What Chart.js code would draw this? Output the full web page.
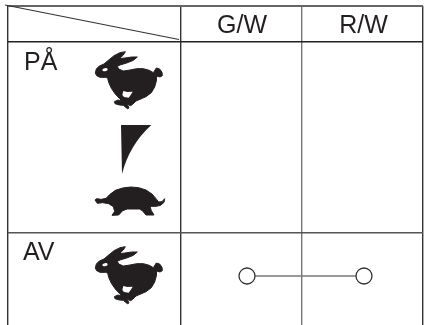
<!DOCTYPE html>
<html>
<head>
<meta charset="utf-8">
<style>html,body{margin:0;padding:0;background:#fff}canvas{display:block}</style>
<script src="https://cdn.jsdelivr.net/npm/chart.js@4"></script>
</head>
<body>
<canvas id="c" width="426" height="325"></canvas>
<script>
const columns = ["G/W", "R/W"];
const columnCentres = [242, 363.5];
const rows = ["PÅ", "AV"];
const rowLabelX = [24, 23];
const rowBaselines = [69.5, 260.3];
const columnEdges = [7.5, 181, 302, 423];
const rowEdges = [6, 42, 233];
const rabbitX = [130, 130];
const rabbitY = [80, 275];
const wedgeX = [130];
const wedgeY = [170];
const turtleX = [130];
const turtleY = [170];
const diagonalX = [5, 179];
const diagonalY = [5, 39.5];
const connectorX = [247, 364];
const connectorY = [276, 276];

const INK = "#231f20";

function icon(w, h, paint) {
  const cv = document.createElement("canvas");
  cv.width = w; cv.height = h;
  const g = cv.getContext("2d");
  g.scale(1 / 3, 1 / 3);
  g.fillStyle = INK;
  g.strokeStyle = INK;
  g.lineWidth = 3;
  g.lineJoin = "round";
  paint(g);
  return cv;
}
function outline(g, pts) {
  g.beginPath();
  g.moveTo(pts[0][0], pts[0][1]);
  for (let i = 1; i < pts.length; i++) g.lineTo(pts[i][0], pts[i][1]);
  g.closePath();
}
const rabbitIcon = icon(80, 70, g => {
  outline(g, [[16,84],[19,72],[28,63],[42,57],[55,46],[72,32],[90,23],[106,20],[100,30],[88,41],[105,39],[125,36],[142,36],[130,46],[110,54],[90,60],[82,64],[86,72],[100,78],[120,75],[140,71],[160,71],[178,76],[190,83],[195,75],[199,69],[209,72],[216,82],[217,92],[210,96],[200,93],[199,108],[194,126],[184,143],[168,155],[150,163],[138,168],[128,178],[122,182],[112,178],[117,189],[112,191],[100,181],[88,180],[75,176],[73,170],[84,165],[96,168],[88,160],[75,146],[64,130],[56,112],[53,99],[46,97],[30,97],[20,92]]);
  g.fill(); g.stroke();
  g.fillStyle = "#fff";
  g.beginPath(); g.ellipse(45, 74, 8, 4.5, -0.2, 0, Math.PI * 2); g.fill();
  outline(g, [[100,138],[112,141],[128,140],[122,150],[116,158],[102,156],[97,150]]);
  g.fill();
});
const wedgeIcon = icon(80, 100, g => {
  g.beginPath();
  g.moveTo(93, 15); g.lineTo(184, 15);
  g.quadraticCurveTo(118, 75, 96, 162);
  g.closePath(); g.fill();
});
const turtleIcon = icon(80, 100, g => {
  outline(g, [[15,240],[20,236],[34,238],[48,235],[60,223],[76,211],[98,204],[122,201],[146,203],[168,210],[186,222],[198,236],[206,246],[216,245],[224,236],[222,247],[212,256],[198,259],[180,259],[184,272],[192,285],[168,285],[157,272],[148,267],[112,267],[98,272],[86,285],[66,286],[74,274],[70,260],[56,251],[38,248],[22,250]]);
  g.fill(); g.stroke();
});

function pts(xs, ys) { return xs.map((x, i) => ({ x, y: ys[i] })); }

const tableText = {
  id: "tableText",
  afterDraw(chart) {
    const { ctx, scales: { x, y } } = chart;
    ctx.save();
    ctx.fillStyle = INK;
    ctx.font = '25px "Liberation Sans", Arial, sans-serif';
    ctx.textBaseline = "alphabetic";
    ctx.textAlign = "center";
    columns.forEach((t, i) => ctx.fillText(t, x.getPixelForValue(columnCentres[i]), y.getPixelForValue(33)));
    ctx.textAlign = "left";
    rows.forEach((t, i) => ctx.fillText(t, x.getPixelForValue(rowLabelX[i]), y.getPixelForValue(rowBaselines[i])));
    ctx.restore();
  }
};

new Chart(document.getElementById("c"), {
  type: "scatter",
  data: {
    datasets: [
      { data: pts(diagonalX, diagonalY), showLine: true, clip: false, borderColor: "#333", borderWidth: 1.2, pointRadius: 0 },
      { data: pts(connectorX, connectorY), showLine: true, borderColor: "#777", borderWidth: 1.5, pointRadius: 8, pointBackgroundColor: "#fff", pointBorderColor: "#333", pointBorderWidth: 1.3 },
      { data: pts(rabbitX, rabbitY), pointStyle: rabbitIcon, pointRadius: 1, clip: false },
      { data: pts(wedgeX, wedgeY), pointStyle: wedgeIcon, pointRadius: 1, clip: false },
      { data: pts(turtleX, turtleY), pointStyle: turtleIcon, pointRadius: 1, clip: false }
    ]
  },
  options: {
    responsive: false,
    animation: false,
    layout: { autoPadding: false, padding: { left: 7.5, right: 3, top: 6, bottom: 0 } },
    plugins: { legend: { display: false }, tooltip: { enabled: false } },
    scales: {
      x: {
        type: "linear", min: 7.5, max: 423,
        afterBuildTicks: s => { s.ticks = columnEdges.map(value => ({ value })); },
        ticks: { display: false },
        border: { display: false },
        grid: { drawTicks: false, color: c => c.index === 2 ? "#777" : "#333", lineWidth: 1.4 }
      },
      y: {
        type: "linear", min: 6, max: 325, reverse: true,
        afterBuildTicks: s => { s.ticks = rowEdges.map(value => ({ value })); },
        ticks: { display: false },
        border: { display: false },
        grid: { drawTicks: false, color: c => c.index === 0 ? "#666" : c.index === 2 ? "#555" : "#222", lineWidth: c => c.index === 0 ? 2 : 1.4 }
      }
    }
  },
  plugins: [tableText]
});
</script>
</body>
</html>
